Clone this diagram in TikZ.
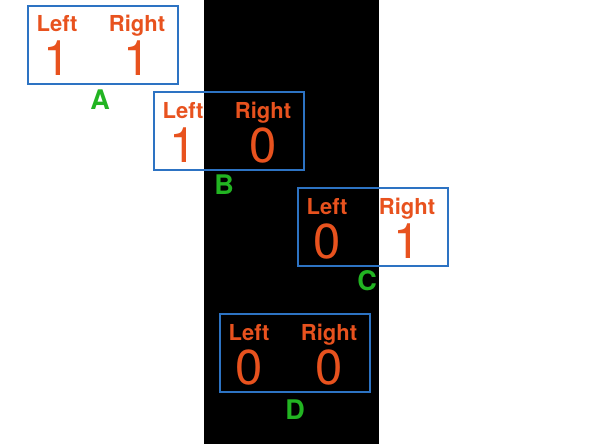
\documentclass[tikz,border=0pt]{standalone}
\usepackage{fontspec}
\setmainfont{TeX Gyre Heros}
\usetikzlibrary{calc}
\definecolor{boxblue}{RGB}{45,115,195}
\definecolor{txtorange}{RGB}{232,82,30}
\definecolor{lblgreen}{RGB}{34,180,34}
\begin{document}
\begin{tikzpicture}[x=1pt,y=-1pt,
  panel/.style={draw=boxblue,line width=2pt,minimum width=150pt,minimum height=78pt,inner sep=0pt,anchor=north west},
  word/.style={text=txtorange,font=\bfseries\fontsize{22}{22}\selectfont,anchor=base,inner sep=0pt},
  digit/.style={text=txtorange,font=\fontsize{49}{49}\selectfont,anchor=base,inner sep=0pt},
  lbl/.style={text=lblgreen,font=\bfseries\fontsize{27}{27}\selectfont,inner sep=0pt}]
\useasboundingbox (0,0) rectangle (592,444);
\fill[white] (0,0) rectangle (592,444);
\fill[black] (204,0) rectangle (379,444);
\foreach \n/\x/\y/\l/\r/\lx/\ly in {A/27/5/1/1/100/100, B/153/91/1/0/224/185, C/297/187/0/1/367/281, D/219/313/0/0/295/410} {
  \node[panel] (box\n) at (\x,\y) {};
  \node[word] (left\n) at ($(box\n.north west)+(30,27)$) {Left};
  \node[word] (right\n) at ($(box\n.north west)+(110,27)$) {Right};
  \node[digit] (ld\n) at ($(box\n.north west)+(30,71)$) {\l};
  \node[digit] (rd\n) at ($(box\n.north west)+(110,71)$) {\r};
  \node[lbl] (lbl\n) at (\lx,\ly) {\n};
}
\end{tikzpicture}
\end{document}
